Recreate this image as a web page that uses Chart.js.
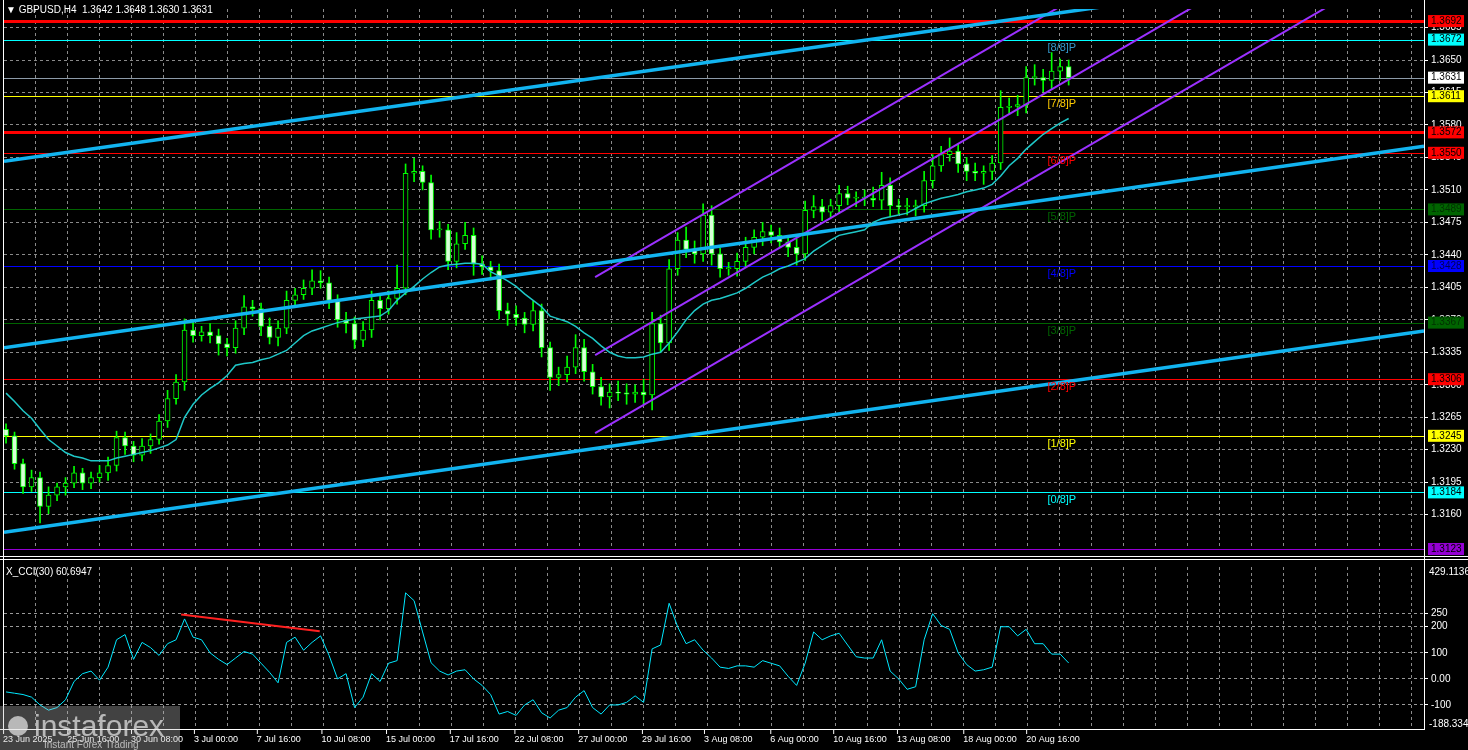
<!DOCTYPE html>
<html>
<head>
<meta charset="utf-8">
<script src="https://cdn.jsdelivr.net/npm/chart.js@4.4.1/dist/chart.umd.min.js"></script>
<style>
  html, body { margin: 0; padding: 0; background: #000; overflow: hidden; }
  #wrap { position: relative; width: 1468px; height: 750px; }
  #priceBox { position: absolute; left: 0; top: 0; width: 1468px; height: 558px; }
  #cciBox { position: absolute; left: 0; top: 558px; width: 1468px; height: 192px; }
</style>
</head>
<body>
<div id="wrap">
  <div id="priceBox"><canvas id="priceChart"></canvas></div>
  <div id="cciBox"><canvas id="cciChart"></canvas></div>
</div>
<script>
// GBPUSD H4 closes (one entry per candle)
const closes = [
  1.3245, 1.3215, 1.3190, 1.3200, 1.3169, 1.3181, 1.3190, 1.3194, 1.3205, 1.3194,
  1.3200, 1.3205, 1.3213, 1.3243, 1.3234, 1.3224, 1.3234, 1.3241, 1.3261, 1.3285,
  1.3303, 1.3359, 1.3353, 1.3357, 1.3353, 1.3344, 1.3340, 1.3361, 1.3384, 1.3382,
  1.3363, 1.3351, 1.3361, 1.3391, 1.3397, 1.3404, 1.3412, 1.3410, 1.3391, 1.3370,
  1.3366, 1.3348, 1.3359, 1.3391, 1.3382, 1.3393, 1.3404, 1.3528, 1.3530, 1.3518,
  1.3467, 1.3467, 1.3433, 1.3452, 1.3461, 1.3430, 1.3427, 1.3423, 1.3380, 1.3376,
  1.3372, 1.3365, 1.3380, 1.3340, 1.3308, 1.3311, 1.3319, 1.3340, 1.3314, 1.3298,
  1.3287, 1.3292, 1.3291, 1.3290, 1.3292, 1.3289, 1.3366, 1.3345, 1.3425, 1.3456,
  1.3446, 1.3441, 1.3483, 1.3441, 1.3425, 1.3425, 1.3433, 1.3448, 1.3459, 1.3465,
  1.3461, 1.3454, 1.3448, 1.3441, 1.3488, 1.3492, 1.3486, 1.3493, 1.3506, 1.3501,
  1.3501, 1.3501, 1.3499, 1.3515, 1.3493, 1.3492, 1.3492, 1.3493, 1.3520, 1.3536,
  1.3548, 1.3552, 1.3538, 1.3530, 1.3528, 1.3530, 1.3539, 1.3599, 1.3600, 1.3602,
  1.3631, 1.3631, 1.3628, 1.3638, 1.3643, 1.3631
];
const firstOpen = 1.3252;
// wick lengths in pips above / below the body
const wickUp = [
  6, 4, 5, 8, 6, 9, 4, 6, 7, 5, 6, 8, 9, 7, 6, 5, 8, 6, 7, 9,
  8, 12, 10, 6, 9, 7, 6, 8, 12, 7, 6, 9, 8, 10, 7, 9, 12, 11, 6, 6,
  8, 7, 9, 10, 6, 8, 25, 10, 14, 6, 8, 9, 6, 12, 14, 8, 9, 6, 7, 8,
  9, 6, 10, 7, 6, 8, 12, 14, 9, 8, 10, 9, 12, 10, 8, 14, 12, 9, 10, 8,
  14, 9, 12, 10, 6, 7, 9, 11, 8, 10, 7, 8, 6, 9, 10, 12, 8, 7, 9, 8,
  7, 9, 12, 14, 8, 7, 9, 6, 10, 12, 9, 14, 8, 7, 9, 6, 8, 18, 9, 10,
  12, 14, 9, 20, 8, 7
];
const wickDn = [
  8, 6, 7, 5, 18, 8, 6, 9, 5, 7, 6, 5, 8, 6, 9, 7, 6, 8, 5, 7,
  6, 9, 7, 6, 8, 12, 9, 6, 7, 8, 10, 7, 9, 6, 8, 5, 7, 6, 9, 8,
  10, 9, 7, 8, 12, 6, 6, 7, 9, 8, 10, 8, 9, 7, 6, 12, 8, 10, 9, 12,
  8, 9, 7, 10, 14, 9, 8, 7, 10, 8, 9, 12, 8, 11, 9, 10, 16, 10, 8, 7,
  9, 10, 8, 12, 9, 7, 8, 6, 7, 9, 8, 6, 10, 12, 7, 8, 9, 6, 8, 7,
  9, 8, 7, 10, 12, 8, 9, 10, 7, 8, 6, 7, 9, 10, 8, 12, 9, 7, 8, 10,
  9, 8, 12, 9, 10, 8
];
// cyan moving average
const maLine = [
  1.3291, 1.3282, 1.3272, 1.3264, 1.3252, 1.3241, 1.3234, 1.3227, 1.3223, 1.3221,
  1.3218, 1.3218, 1.3218, 1.3221, 1.3223, 1.3225, 1.3227, 1.3229, 1.3232, 1.3235,
  1.3241, 1.3265, 1.3279, 1.3289, 1.3296, 1.3302, 1.3310, 1.3321, 1.3323, 1.3324,
  1.3327, 1.3329, 1.3333, 1.3337, 1.3345, 1.3353, 1.3358, 1.3361, 1.3364, 1.3367,
  1.3369, 1.3371, 1.3372, 1.3373, 1.3374, 1.3380, 1.3391, 1.3399, 1.3406, 1.3414,
  1.3421, 1.3427, 1.3429, 1.3430, 1.3431, 1.3431, 1.3430, 1.3422, 1.3417, 1.3412,
  1.3406, 1.3398, 1.3391, 1.3384, 1.3374, 1.3371, 1.3368, 1.3363, 1.3356, 1.3350,
  1.3342, 1.3335, 1.3331, 1.3329, 1.3329, 1.3330, 1.3333, 1.3335, 1.3345, 1.3357,
  1.3370, 1.3380, 1.3387, 1.3391, 1.3393, 1.3396, 1.3399, 1.3404, 1.3410, 1.3416,
  1.3420, 1.3425, 1.3428, 1.3432, 1.3436, 1.3444, 1.3450, 1.3456, 1.3461, 1.3463,
  1.3465, 1.3467, 1.3475, 1.3479, 1.3481, 1.3483, 1.3485, 1.3490, 1.3495, 1.3498,
  1.3501, 1.3503, 1.3505, 1.3508, 1.3510, 1.3512, 1.3516, 1.3525, 1.3536, 1.3544,
  1.3554, 1.3562, 1.3570, 1.3576, 1.3582, 1.3587
];
// X_CCI(30)
const cciValues = [
  -50, -55, -60, -70, -100, -120, -110, -80, -10, 20,
  30, -5, 45, 150, 170, 75, 140, 120, 90, 135,
  150, 230, 160, 150, 100, 75, 55, 80, 105, 95,
  60, 25, -15, 140, 160, 110, 140, 165, 90, 0,
  20, -110, -70, 20, -10, 60, 70, 330, 300, 180,
  62, 30, 15, 30, 35, 0, -25, -60, -135, -125,
  -140, -100, -80, -130, -150, -120, -110, -70, -45, -110,
  -135, -100, -100, -90, -65, -90, 115, 130, 290, 200,
  135, 150, 110, 80, 45, 40, 50, 50, 45, 70,
  60, 50, 10, -25, 60, 180, 150, 165, 175, 130,
  85, 80, 80, 150, 30, 0, -40, -30, 150, 250,
  205, 190, 100, 55, 30, 35, 45, 200, 200, 165,
  190, 135, 135, 95, 95, 61
];
const cciDivergence = [[20.6, 247], [36.9, 183]];

// price levels (Murrey math + support/resistance)
const levelPrices = [1.3692, 1.3672, 1.3631, 1.3611, 1.3572, 1.3550, 1.3489, 1.3428, 1.3367, 1.3306, 1.3245, 1.3184, 1.3123];
const levelColors = ['#ff0000', '#00ffff', '#8c9aa8', '#ffff00', '#ff0000', '#ff0000', '#006400', '#0000ff', '#006400', '#ff0000', '#ffff00', '#00ffff', '#9400d3'];
const levelBoxColors = ['#ff0000', '#00ffff', '#ffffff', '#ffff00', '#ff0000', '#ff0000', '#006400', '#0000ff', '#006400', '#ff0000', '#ffff00', '#00ffff', '#9400d3'];
const levelWidths = [3, 1, 1, 1, 3, 1, 1, 1, 1, 1, 1, 1, 1];
const murreyNames = ['[8/8]P', '[7/8]P', '[6/8]P', '[5/8]P', '[4/8]P', '[3/8]P', '[2/8]P', '[1/8]P', '[0/8]P'];
const murreyPrices = [1.3672, 1.3611, 1.3550, 1.3489, 1.3428, 1.3367, 1.3306, 1.3245, 1.3184];
const murreyColors = ['#3399cc', '#ffcc00', '#ff0000', '#006400', '#0000ff', '#006400', '#ff0000', '#ffff00', '#00ffff'];

// trend lines [bar, price] endpoints
const blueLines = [
  [[-0.24, 1.3541], [128.7, 1.3707]],
  [[-0.24, 1.3340], [166.8, 1.3557]],
  [[-0.24, 1.3141], [166.8, 1.3358]]
];
const purpleLines = [
  [[69.3, 1.3416], [166.8, 1.3936]],
  [[69.3, 1.3332], [166.8, 1.3852]],
  [[69.3, 1.3248], [166.8, 1.3768]]
];

const priceTicks = [1.3160, 1.3195, 1.3230, 1.3265, 1.3300, 1.3335, 1.3370, 1.3405, 1.3440, 1.3475, 1.3510, 1.3545, 1.3580, 1.3615, 1.3650, 1.3685];
const cciTicks = [250, 200, 100, 0, -100];
const timeLabels = ['23 Jun 2025', '25 Jun 16:00', '30 Jun 08:00', '3 Jul 00:00', '7 Jul 16:00', '10 Jul 08:00', '15 Jul 00:00', '17 Jul 16:00', '22 Jul 08:00', '27 Jul 00:00', '29 Jul 16:00', '3 Aug 08:00', '6 Aug 00:00', '10 Aug 16:00', '13 Aug 08:00', '18 Aug 00:00', '20 Aug 16:00'];
const timeLabelBars = [-0.35, 7.2, 14.7, 22.1, 29.5, 37.1, 44.7, 52.2, 59.8, 67.3, 74.8, 82.1, 89.9, 97.3, 104.8, 112.6, 120.0];

const X_MIN = -0.24, X_MAX = 166.8;
const FONT = '"Liberation Sans", Arial, sans-serif';

// build candles
const opens = closes.map((c, i) => i === 0 ? firstOpen : closes[i - 1]);
const wickData = closes.map((c, i) => {
  const top = Math.max(opens[i], c) + wickUp[i] / 10000;
  const bot = Math.min(opens[i], c) - wickDn[i] / 10000;
  return { x: i, y: [bot, top] };
});
const bodyData = closes.map((c, i) => {
  let lo = Math.min(opens[i], c), hi = Math.max(opens[i], c);
  if (hi - lo < 0.00012) hi = lo + 0.00012;
  return { x: i, y: [lo, hi] };
});
const bodyFill = closes.map((c, i) => c >= opens[i] ? '#000000' : '#d8ffd8');

function lineSet(pts, color, width) {
  return { type: 'line', data: pts.map(p => ({ x: p[0], y: p[1] })), borderColor: color,
    borderWidth: width, pointRadius: 0, fill: false, order: 0 };
}

function vGrid(chart) {
  const { ctx, chartArea: a } = chart;
  ctx.save();
  ctx.strokeStyle = '#8a8a8a';
  ctx.lineWidth = 1;
  ctx.setLineDash([3, 3]);
  for (let x = 3; x < a.right; x += 32) {
    ctx.beginPath(); ctx.moveTo(x + 0.5, a.top); ctx.lineTo(x + 0.5, a.bottom); ctx.stroke();
  }
  ctx.restore();
}

const pricePlugin = {
  id: 'pricePlugin',
  beforeDatasetsDraw(chart) {
    vGrid(chart);
    const { ctx, chartArea: a, scales: { y } } = chart;
    ctx.save();
    levelPrices.forEach((p, k) => {
      const py = Math.round(y.getPixelForValue(p)) + 0.5;
      ctx.strokeStyle = levelColors[k];
      ctx.lineWidth = levelWidths[k];
      ctx.beginPath(); ctx.moveTo(a.left, py); ctx.lineTo(a.right, py); ctx.stroke();
    });
    ctx.restore();
  },
  afterDraw(chart) {
    const { ctx, chartArea: a, scales: { x, y } } = chart;
    ctx.save();
    ctx.strokeStyle = '#ffffff';
    ctx.lineWidth = 1;
    ctx.beginPath();
    ctx.moveTo(a.left - 0.5, 0); ctx.lineTo(a.left - 0.5, chart.height);
    ctx.moveTo(a.right + 0.5, 0); ctx.lineTo(a.right + 0.5, chart.height);
    ctx.moveTo(0, chart.height - 1.5); ctx.lineTo(chart.width, chart.height - 1.5);
    ctx.stroke();
    // murrey labels
    ctx.font = '11px ' + FONT;
    ctx.textBaseline = 'middle';
    murreyNames.forEach((t, k) => {
      ctx.fillStyle = murreyColors[k];
      ctx.fillText(t, x.getPixelForValue(122.5), y.getPixelForValue(murreyPrices[k]) + 8);
    });
    // level boxes on axis
    ctx.font = '10px ' + FONT;
    levelPrices.forEach((p, k) => {
      const py = y.getPixelForValue(p);
      ctx.fillStyle = levelBoxColors[k];
      ctx.fillRect(a.right + 4, py - 6, 36, 12);
      ctx.fillStyle = (k === 6 || k === 8) ? '#003000' : (k === 7 ? '#000050' : '#000000');
      ctx.fillText(p.toFixed(4), a.right + 7, py);
    });
    ctx.fillStyle = '#ffffff';
    ctx.font = '10px ' + FONT;
    ctx.fillText('\u25BC GBPUSD,H4  1.3642 1.3648 1.3630 1.3631', 6, 10);
    ctx.restore();
  }
};

new Chart(document.getElementById('priceChart'), {
  type: 'bar',
  data: {
    datasets: [
      { data: wickData, backgroundColor: '#00ff00', barThickness: 1, grouped: false, order: 3 },
      { data: bodyData, backgroundColor: bodyFill, borderColor: '#00ff00', borderWidth: 1,
        borderSkipped: false, barThickness: 5, grouped: false, order: 2 },
      lineSet(maLine.map((v, i) => [i, v]), '#1fc8c8', 1.5),
      ...blueLines.map(l => lineSet(l, '#12b4f0', 3.5)),
      ...purpleLines.map(l => lineSet(l, '#9b30ff', 2))
    ]
  },
  options: {
    responsive: true, maintainAspectRatio: false, animation: false,
    layout: { padding: { top: 5, left: 4, right: 0, bottom: 3 } },
    plugins: { legend: { display: false }, tooltip: { enabled: false } },
    scales: {
      x: { type: 'linear', min: X_MIN, max: X_MAX, display: false, offset: false },
      y: {
        position: 'right', min: 1.3123, max: 1.3705,
        afterFit(s) { s.width = 44; },
        afterBuildTicks(s) { s.ticks = priceTicks.map(v => ({ value: v })); },
        grid: { color: '#8a8a8a', lineWidth: 1, tickLength: 4, drawTicks: true, tickColor: '#ffffff' },
        border: { display: false, dash: [3, 3] },
        ticks: { color: '#ffffff', font: { family: FONT, size: 10 }, padding: 3,
          callback: v => v.toFixed(4) }
      }
    }
  },
  plugins: [pricePlugin]
});

const cciPlugin = {
  id: 'cciPlugin',
  beforeDatasetsDraw(chart) { vGrid(chart); },
  afterDraw(chart) {
    const { ctx, chartArea: a, scales: { x } } = chart;
    ctx.save();
    ctx.strokeStyle = '#ffffff';
    ctx.lineWidth = 1;
    ctx.beginPath();
    ctx.moveTo(0, 1.5); ctx.lineTo(chart.width, 1.5);
    ctx.moveTo(a.left - 0.5, 0); ctx.lineTo(a.left - 0.5, a.bottom + 2);
    ctx.moveTo(a.right + 0.5, 0); ctx.lineTo(a.right + 0.5, a.bottom + 2);
    ctx.moveTo(0, a.bottom + 1.5); ctx.lineTo(a.right, a.bottom + 1.5);
    ctx.stroke();
    ctx.font = '10px ' + FONT;
    ctx.fillStyle = '#ffffff';
    ctx.textBaseline = 'middle';
    ctx.fillText('X_CCI(30) 60.6947', 6, 14);
    ctx.fillText('429.1136', a.right + 5, a.top + 5);
    ctx.fillText('-188.334', a.right + 5, a.bottom - 4);
    ctx.textBaseline = 'alphabetic';
    ctx.font = '9px ' + FONT;
    timeLabels.forEach((t, k) => {
      const px = x.getPixelForValue(timeLabelBars[k]);
      ctx.fillStyle = '#ffffff';
      ctx.fillText(t, px, chart.height - 8);
      ctx.fillRect(px, a.bottom + 2, 1, 4);
    });
    // logo
    ctx.fillStyle = 'rgba(190,190,190,0.35)';
    ctx.fillRect(0, chart.height - 44, 180, 44);
    ctx.fillStyle = 'rgba(235,235,235,0.7)';
    ctx.font = '30px ' + FONT;
    ctx.fillText('instaforex', 34, chart.height - 14);
    ctx.font = '10px ' + FONT;
    ctx.fillText('Instant Forex Trading', 44, chart.height - 2);
    ctx.beginPath(); ctx.arc(18, chart.height - 24, 10, 0, Math.PI * 2); ctx.fill();
    ctx.restore();
  }
};

new Chart(document.getElementById('cciChart'), {
  type: 'line',
  data: {
    datasets: [
      { data: cciValues.map((v, i) => ({ x: i, y: v })), borderColor: '#00e8ff', borderWidth: 1,
        pointRadius: 0, tension: 0 },
      { data: cciDivergence.map(p => ({ x: p[0], y: p[1] })), borderColor: '#ff2020', borderWidth: 2,
        pointRadius: 0 }
    ]
  },
  options: {
    responsive: true, maintainAspectRatio: false, animation: false,
    layout: { padding: { top: 7, left: 4, right: 0, bottom: 22 } },
    plugins: { legend: { display: false }, tooltip: { enabled: false } },
    scales: {
      x: { type: 'linear', min: X_MIN, max: X_MAX, display: false },
      y: {
        position: 'right', min: -188.334, max: 429.1136,
        afterFit(s) { s.width = 44; },
        afterBuildTicks(s) { s.ticks = cciTicks.map(v => ({ value: v })); },
        grid: { color: '#9a9a9a', tickLength: 4, tickColor: '#ffffff' },
        border: { display: false, dash: [3, 3] },
        ticks: { color: '#ffffff', font: { family: FONT, size: 10 }, padding: 3,
          callback: v => v === 0 ? '0.00' : String(v) }
      }
    }
  },
  plugins: [cciPlugin]
});
</script>
</body>
</html>
